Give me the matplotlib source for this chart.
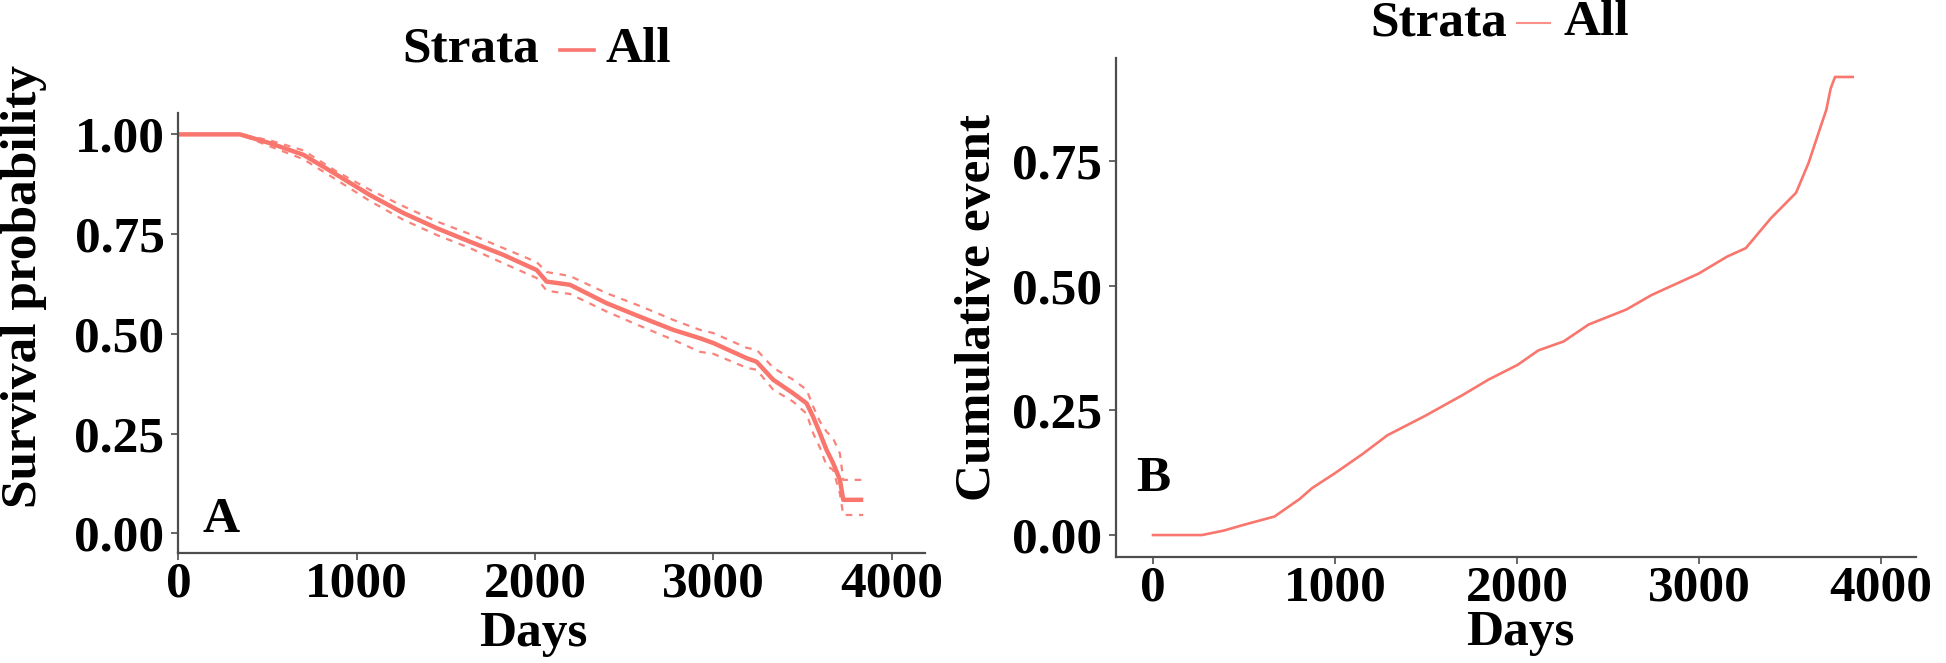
import matplotlib
matplotlib.use("Agg")
import matplotlib.pyplot as plt
from matplotlib.lines import Line2D

plt.rcParams['font.family'] = ['Liberation Serif', 'DejaVu Serif']
plt.rcParams['font.weight'] = 'bold'

# --- datos ---
# panel A: curva de supervivencia (Kaplan-Meier) con IC
dias_a = [0, 345, 513, 700, 887, 1074, 1261, 1448, 1635, 1822, 2009, 2065, 2196, 2401, 2588,
          2775, 2925, 3000, 3187, 3243, 3336, 3448, 3523, 3560, 3598, 3635, 3672, 3710, 3729, 3841]
superv = [1.0, 1.0, 0.978, 0.949, 0.899, 0.848, 0.803, 0.765, 0.731, 0.698, 0.660, 0.631, 0.623, 0.577, 0.543,
          0.510, 0.489, 0.477, 0.439, 0.430, 0.385, 0.351, 0.326, 0.292, 0.251, 0.209, 0.176, 0.134, 0.084, 0.084]
ic_sup = [1.0, 1.0, 0.985, 0.960, 0.907, 0.861, 0.820, 0.782, 0.750, 0.715, 0.680, 0.655, 0.645, 0.602, 0.570,
          0.535, 0.510, 0.502, 0.465, 0.460, 0.415, 0.385, 0.360, 0.318, 0.280, 0.255, 0.238, 0.200, 0.134, 0.134]
ic_inf = [1.0, 1.0, 0.970, 0.938, 0.886, 0.833, 0.786, 0.748, 0.715, 0.677, 0.640, 0.608, 0.600, 0.556, 0.520,
          0.485, 0.455, 0.450, 0.415, 0.410, 0.360, 0.330, 0.300, 0.251, 0.215, 0.170, 0.159, 0.100, 0.046, 0.046]

# panel B: eventos acumulados
dias_b = [0, 270, 390, 494, 667, 805, 874, 1000, 1150, 1288, 1496, 1703, 1841, 2003, 2117,
          2256, 2394, 2601, 2739, 2998, 3154, 3257, 3395, 3533, 3602, 3671, 3699, 3723, 3747, 3844]
acum = [0.0, 0.0, 0.009, 0.020, 0.037, 0.072, 0.094, 0.124, 0.162, 0.200, 0.239, 0.281, 0.311, 0.341, 0.370,
        0.388, 0.422, 0.452, 0.481, 0.524, 0.558, 0.575, 0.635, 0.686, 0.746, 0.822, 0.852, 0.895, 0.918, 0.918]

ticks_x = [0, 1000, 2000, 3000, 4000]
color = '#F8766D'
gris = '#4d4d4d'
fs = 37

fig = plt.figure(figsize=(19.46, 6.63), dpi=100)
axA = fig.add_axes([0.0917, 0.1655, 0.3836, 0.6637])
axB = fig.add_axes([0.5735, 0.1599, 0.4111, 0.7526])


def estilo(ax):
    for s in ['top', 'right']:
        ax.spines[s].set_visible(False)
    for s in ['left', 'bottom']:
        ax.spines[s].set_color(gris)
        ax.spines[s].set_linewidth(1.6)
    ax.tick_params(axis='both', length=5, width=1.2, color=gris, labelsize=fs, labelcolor='black')
    ax.tick_params(axis='y', pad=5)
    ax.tick_params(axis='x', pad=1)
    ax.set_xticks(ticks_x)
    for lb in ax.get_xticklabels() + ax.get_yticklabels():
        lb.set_fontweight('bold')


# ----- panel A -----
axA.plot(dias_a, ic_sup, color=color, lw=1.6, ls=(0, (3, 3)), alpha=0.9)
axA.plot(dias_a, ic_inf, color=color, lw=1.6, ls=(0, (3, 3)), alpha=0.9)
axA.plot(dias_a, superv, color=color, lw=3.2, solid_capstyle='butt')
axA.set_xlim(0, 4187)
axA.set_ylim(-0.05, 1.053)
axA.set_yticks([0, 0.25, 0.5, 0.75, 1.0])
axA.set_yticklabels(['0.00', '0.25', '0.50', '0.75', '1.00'])
estilo(axA)
axA.set_ylabel('Survival probability', fontsize=fs, fontweight='bold', va='center')
axA.yaxis.set_label_coords(-0.207, 0.607)
axA.set_xlabel('Days', fontsize=fs, fontweight='bold', va='center')
axA.xaxis.set_label_coords(0.475, -0.183)
axA.text(0.032, 0.075, 'A', transform=axA.transAxes, fontsize=fs, fontweight='bold', va='center', ha='left')

# ----- panel B -----
axB.plot(dias_b, acum, color=color, lw=1.9)
axB.set_xlim(-203, 4192)
axB.set_ylim(-0.044, 0.956)
axB.set_yticks([0, 0.25, 0.5, 0.75])
axB.set_yticklabels(['0.00', '0.25', '0.50', '0.75'])
estilo(axB)
axB.set_ylabel('Cumulative event', fontsize=fs, fontweight='bold', va='center')
axB.yaxis.set_label_coords(-0.1725, 0.499)
axB.set_xlabel('Days', fontsize=fs, fontweight='bold', va='center')
axB.xaxis.set_label_coords(0.505, -0.152)
axB.text(0.025, 0.156, 'B', transform=axB.transAxes, fontsize=fs, fontweight='bold', va='center', ha='left')

# ----- leyendas (Strata - All) -----
W, H = 1946.0, 663.0
fig.text(539 / W, 1 - 50 / H, 'Strata', fontsize=fs, fontweight='bold', ha='right', va='center')
fig.add_artist(Line2D([560 / W, 594 / W], [1 - 50 / H, 1 - 50 / H], color=color, lw=2.6, transform=fig.transFigure))
fig.text(606 / W, 1 - 50 / H, 'All', fontsize=fs, fontweight='bold', ha='left', va='center')

fig.text(1507 / W, 1 - 23 / H, 'Strata', fontsize=fs, fontweight='bold', ha='right', va='center')
fig.add_artist(Line2D([1517 / W, 1550 / W], [1 - 23 / H, 1 - 23 / H], color=color, lw=1.5, alpha=0.8, transform=fig.transFigure))
fig.text(1564 / W, 1 - 23 / H, 'All', fontsize=fs, fontweight='bold', ha='left', va='center')

fig.savefig('out.png', dpi=100, facecolor='white')
